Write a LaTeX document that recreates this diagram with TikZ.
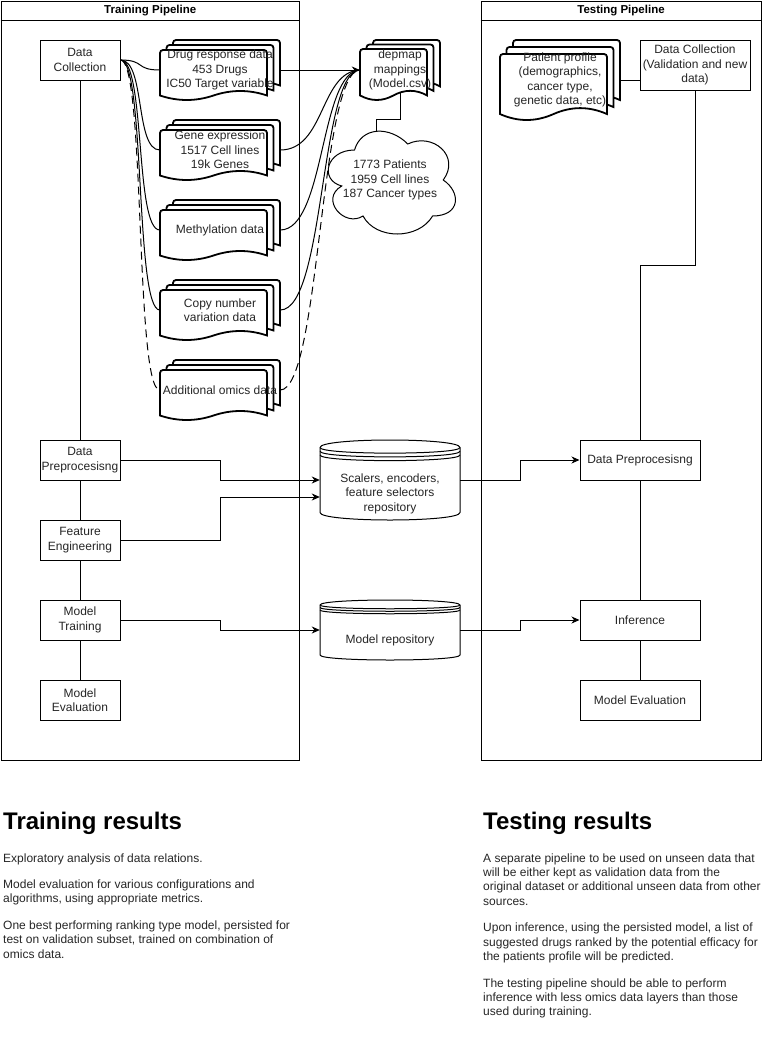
\documentclass[tikz,border=0pt]{standalone}
\usepackage{fontspec}
\setmainfont{Liberation Sans}
\usetikzlibrary{arrows.meta,shapes.symbols,calc}
\pgfdeclarelayer{bg}
\pgfsetlayers{bg,main}
% multi document: x y w h dx dy
\newcommand\mdocdraw[6]{%
 \foreach \k in {2,1,0}{%
  \pgfmathsetmacro\px{#1+\k*#5}%
  \pgfmathsetmacro\py{#2+(2-\k)*#6}%
  \pgfmathsetmacro\pw{#3-2*#5}%
  \pgfmathsetmacro\ph{#4-2*#6}%
  \pgfmathsetmacro\wa{0.09*\ph}%
  \pgfmathsetmacro\ym{\py+\ph-\wa}%
  \pgfmathsetmacro\cc{4/3*\wa}%
  \draw[xpage] (\px,\ym) [rounded corners=3pt] -- (\px,\py) -- (\px+\pw,\py) [sharp corners] -- (\px+\pw,\ym)
    .. controls (\px+0.8333*\pw,\ym-\cc) and (\px+0.6667*\pw,\ym-\cc) .. (\px+0.5*\pw,\ym)
    .. controls (\px+0.3333*\pw,\ym+\cc) and (\px+0.1667*\pw,\ym+\cc) .. (\px,\ym) -- cycle;
 }}
% datastore: x y w h dy
\newcommand\dstore[5]{%
 \draw[xln, fill=white] (#1,#2+#5) .. controls (#1,#2-#5/3) and (#1+#3,#2-#5/3) .. (#1+#3,#2+#5)
   -- (#1+#3,#2+#4-#5) .. controls (#1+#3,#2+#4+#5/3) and (#1,#2+#4+#5/3) .. (#1,#2+#4-#5) -- cycle;
 \draw[xln] (#1,#2+#5) .. controls (#1,#2+2*#5) and (#1+#3,#2+2*#5) .. (#1+#3,#2+#5);
 \draw[xln] (#1,#2+1.5*#5) .. controls (#1,#2+2.5*#5) and (#1+#3,#2+2.5*#5) .. (#1+#3,#2+1.5*#5);
 \draw[xln] (#1,#2+2*#5) .. controls (#1,#2+3*#5) and (#1+#3,#2+3*#5) .. (#1+#3,#2+2*#5);
}
\begin{document}
\begin{tikzpicture}[x=1pt,y=-1pt,
  xtxt/.style={font=\fontsize{12}{14.4}\selectfont, text=black!85},
  xbox/.style={draw, fill=white, line width=1pt, minimum width=80pt, minimum height=40pt, inner sep=0pt, align=center, xtxt},
  xln/.style={line width=1pt},
  xarr/.style={line width=1pt, -{Stealth[length=8pt,width=7pt,inset=2.5pt]}},
  xpage/.style={draw, fill=white, line width=1.8pt},
  xlane/.style={draw, fill=white, line width=1pt, inner sep=0pt, anchor=north west},
  xlanetitle/.style={font=\bfseries\fontsize{11.5}{14}\selectfont, text=black, inner sep=0pt},
  xdl/.style={xtxt, align=center, inner sep=0pt},
  xhead/.style={font=\bfseries\fontsize{24}{28.8}\selectfont, text=black, inner sep=0pt, anchor=base west},
  xbody/.style={font=\fontsize{12}{14.4}\selectfont, text=black!85, inner sep=0pt, anchor=base west},
  xdashed/.style={dash pattern=on 8pt off 5pt},
]
\useasboundingbox (0,0) rectangle (762,1044);

% lanes
\node[xlane, minimum width=298.5pt, minimum height=759.5pt] (train) at (0.5,0.5) {};
\draw[xln] ($(train.north west)+(0,20)$) -- ($(train.north east)+(0,20)$);
\node[xlanetitle] (traintitle) at ($(train.north)+(0,10.5)$) {Training Pipeline};
\node[xlane, minimum width=280pt, minimum height=759.5pt] (test) at (480.5,0.5) {};
\draw[xln] ($(test.north west)+(0,20)$) -- ($(test.north east)+(0,20)$);
\node[xlanetitle] (testtitle) at ($(test.north)+(0,10.5)$) {Testing Pipeline};

% documents
\mdocdraw{160}{40}{120}{60}{6.5}{5}
\node[xdl, minimum width=120pt, minimum height=60pt] (drug) at (220,70) {Drug response data\\453 Drugs\\IC50 Target variable};
\mdocdraw{160}{120}{120}{60}{6.5}{5}
\node[xdl, minimum width=120pt, minimum height=60pt] (gene) at (220,150) {Gene expression\\1517 Cell lines\\19k Genes};
\mdocdraw{160}{200}{120}{60}{6.5}{5}
\node[xdl, minimum width=120pt, minimum height=60pt] (meth) at (220,230) {Methylation data};
\mdocdraw{160}{280}{120}{60}{6.5}{5}
\node[xdl, minimum width=120pt, minimum height=60pt] (cnv) at (220,310) {Copy number\\variation data};
\mdocdraw{160}{360}{120}{60}{6.5}{5}
\node[xdl, minimum width=120pt, minimum height=60pt] (omics) at (220,390) {Additional omics data};
\mdocdraw{360}{40}{80}{60}{6.5}{4.5}
\node[xdl, minimum width=80pt, minimum height=60pt] (depmap) at (400,70) {depmap\\mappings\\(Model.csv)};
\mdocdraw{500}{40}{120}{80}{6.5}{7}
\node[xdl, minimum width=120pt, minimum height=80pt] (pp) at (560,80) {Patient profile\\(demographics,\\cancer type,\\genetic data, etc)};

% cloud (draw.io cloud outline, box 319,120 142x120)
\begin{scope}[shift={(319,120)}, x=142pt, y=-120pt]
\draw[xln, fill=white] (0.25,0.25) .. controls (0.05,0.25) and (0,0.5) .. (0.16,0.55)
  .. controls (0,0.66) and (0.18,0.9) .. (0.31,0.8)
  .. controls (0.4,1) and (0.7,1) .. (0.8,0.8)
  .. controls (1,0.8) and (1,0.6) .. (0.875,0.5)
  .. controls (1,0.3) and (0.8,0.1) .. (0.625,0.2)
  .. controls (0.5,0.05) and (0.3,0.05) .. (0.25,0.25) -- cycle;
\end{scope}
\coordinate (cloudc) at (390,180);
\node[xdl] (cloudtext) at (cloudc) {1773 Patients\\1959 Cell lines\\187 Cancer types};
\coordinate (dmb) at (400,93);
\coordinate (cj) at (376.5,119.5);
\begin{pgfonlayer}{bg}
\draw[xln] (dmb) |- (cj) -- (cj |- cloudc);
\end{pgfonlayer}

% boxes
\node[xbox] (dc) at (80,60) {Data\\Collection};
\node[xbox] (dp) at (80,460) {Data\\Preprocesisng};
\node[xbox] (fe) at (80,540) {Feature\\Engineering};
\node[xbox] (mt) at (80,620) {Model\\Training};
\node[xbox] (me) at (80,700) {Model\\Evaluation};
\node[xbox, minimum width=110pt, minimum height=50pt] (tdc) at (695,65) {Data Collection\\(Validation and new\\data)};
\node[xbox, minimum width=120pt] (tdp) at (640,460) {Data Preprocesisng};
\node[xbox, minimum width=120pt] (inf) at (640,620) {Inference};
\node[xbox, minimum width=120pt] (tme) at (640,700) {Model Evaluation};

% datastores
\dstore{320}{440}{140}{80}{7.5}
\node[minimum width=140pt, minimum height=80pt, inner sep=0pt] (scal) at (390,480) {};
\node[xdl] (scaltext) at (390,493.5) {Scalers, encoders,\\feature selectors\\repository};
\dstore{320}{600}{140}{60}{5}
\node[minimum width=140pt, minimum height=60pt, inner sep=0pt] (mrep) at (390,630) {};
\node[xdl] (mreptext) at (390,640) {Model repository};

% pipeline connectors
\coordinate (jx) at (220,0);
\coordinate (jt) at (520,0);
\coordinate (tj) at (640,265);
\draw[xln] (dc.south) -- (dp.north);
\draw[xln] (dp.south) -- (fe.north);
\draw[xln] (fe.south) -- (mt.north);
\draw[xln] (mt.south) -- (me.north);
\draw[xln] (tdc.south) |- (tj) -- (tdp.north);
\draw[xln] (tdp.south) -- (inf.north);
\draw[xln] (inf.south) -- (tme.north);
\draw[xln] (pp.east) -- (pp.east -| tdc.west);

\draw[xarr] (dp.east) -- (dp.east -| jx) |- (scal.west);
\draw[xarr] (fe.east) -- (fe.east -| jx) |- ($(scal.west)+(0,17)$);
\draw[xarr] (mt.east) -- (mt.east -| jx) |- (mrep.west);
\draw[xarr] (scal.east) -- (scal.east -| jt) |- (tdp.west);
\draw[xarr] (mrep.east) -- (mrep.east -| jt) |- (inf.west);

% data collection curves
\foreach \n in {drug,gene,meth,cnv}{
  \draw[xln] (dc.east) .. controls ($(dc.east)+(25,0)$) and ($(\n.west)+(-25,0)$) .. (\n.west);
}
\draw[xln, xdashed] (dc.east) .. controls ($(dc.east)+(25,0)$) and ($(omics.west)+(-25,0)$) .. (omics.west);

% to depmap
\draw[xarr] (drug.east) -- (depmap.west);
\foreach \n in {gene,meth,cnv}{
  \draw[xln] (\n.east) .. controls ($(\n.east)+(45,0)$) and ($(depmap.west)+(-40,2)$) .. (depmap.west);
}
\draw[xln, xdashed] (omics.east) .. controls ($(omics.east)+(40,0)$) and ($(depmap.west)+(-40,2)$) .. (depmap.west);

% result texts
\node[xhead] (trh) at (3,829.5) {Training results};
\node[xbody] (tr1) at (3,862) {Exploratory analysis of data relations.};
\node[xbody] (tr2) at (3,888.5) {Model evaluation for various configurations and};
\node[xbody] (tr3) at (3,902.9) {algorithms, using appropriate metrics.};
\node[xbody] (tr4) at (3,929.4) {One best performing ranking type model, persisted for};
\node[xbody] (tr5) at (3,943.8) {test on validation subset, trained on combination of};
\node[xbody] (tr6) at (3,958.2) {omics data.};

\node[xhead] (teh) at (483,829.5) {Testing results};
\node[xbody] (te1) at (483,862) {A separate pipeline to be used on unseen data that};
\node[xbody] (te2) at (483,876.4) {will be either kept as validation data from the};
\node[xbody] (te3) at (483,890.8) {original dataset or additional unseen data from other};
\node[xbody] (te4) at (483,905.2) {sources.};
\node[xbody] (te5) at (483,931.7) {Upon inference, using the persisted model, a list of};
\node[xbody] (te6) at (483,946.1) {suggested drugs ranked by the potential efficacy for};
\node[xbody] (te7) at (483,960.5) {the patients profile will be predicted.};
\node[xbody] (te8) at (483,987) {The testing pipeline should be able to perform};
\node[xbody] (te9) at (483,1001.4) {inference with less omics data layers than those};
\node[xbody] (te10) at (483,1015.8) {used during training.};
\end{tikzpicture}
\end{document}
